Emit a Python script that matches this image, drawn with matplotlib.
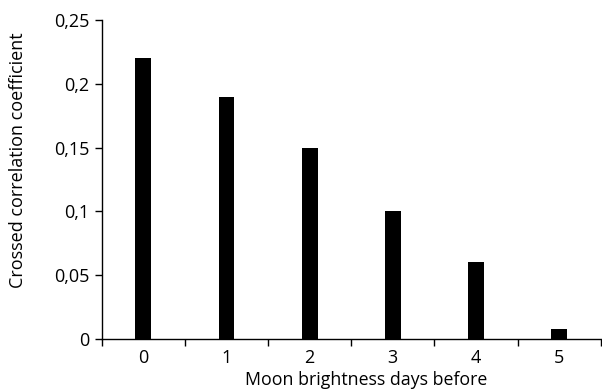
import matplotlib
matplotlib.use("Agg")
import matplotlib.pyplot as plt
from matplotlib.ticker import FuncFormatter, FixedLocator

# Data
days = [0, 1, 2, 3, 4, 5]
coef = [0.22, 0.19, 0.15, 0.10, 0.06, 0.0075]
y_ticks = [0, 0.05, 0.1, 0.15, 0.2, 0.25]

plt.rcParams['font.family'] = ['Open Sans', 'DejaVu Sans']

fig = plt.figure(figsize=(6.02, 3.91), dpi=100)
ax = fig.add_axes([0.169, 0.133, 0.829, 0.816])

ax.bar(days, coef, width=0.19, color='black')

ax.set_xlim(-0.5, 5.5)
ax.set_ylim(0, 0.25)
ax.set_yticks(y_ticks)
ax.yaxis.set_major_formatter(FuncFormatter(lambda v, p: ('%g' % v).replace('.', ',')))

ax.set_xticks(days)
ax.set_xticklabels([str(d) for d in days])
ax.xaxis.set_minor_locator(FixedLocator([d - 0.5 for d in days] + [5.5]))
ax.tick_params(axis='x', which='major', length=0, pad=7, labelsize=13)
ax.tick_params(axis='x', which='minor', length=5, width=1, direction='out')
ax.tick_params(axis='y', length=5, width=1, direction='out', labelsize=13, pad=4)

for s in ['top', 'right']:
    ax.spines[s].set_visible(False)
for s in ['left', 'bottom']:
    ax.spines[s].set_linewidth(1)

ax.set_xlabel('Moon brightness days before', fontsize=12.8)
ax.xaxis.set_label_coords(0.53, -0.1)
ax.set_ylabel('Crossed correlation coefficient', fontsize=13)
ax.yaxis.set_label_coords(-0.15, 0.56)

fig.savefig('out.png', dpi=100, facecolor='white')
